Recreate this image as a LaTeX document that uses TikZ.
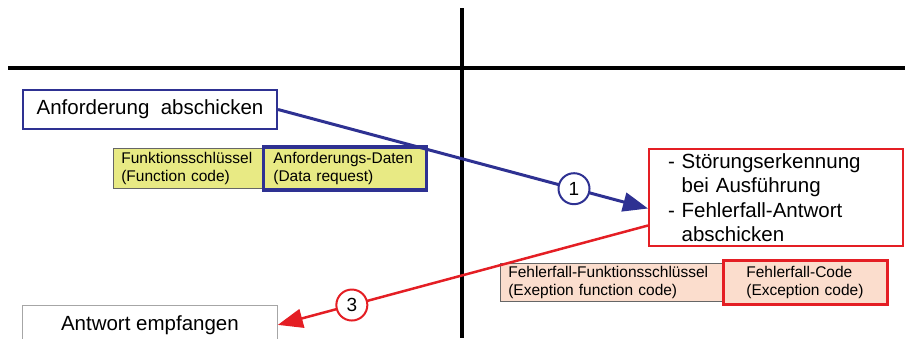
\documentclass[tikz,border=0pt]{standalone}
\usepackage{fontspec}
\setmainfont{Liberation Sans}
\usetikzlibrary{positioning,arrows.meta}
\definecolor{reqblue}{RGB}{46,49,146}
\definecolor{errred}{RGB}{228,30,36}
\definecolor{reqfill}{RGB}{232,234,132}
\definecolor{errfill}{RGB}{251,221,205}
\tikzset{
  bigtext/.style={font=\fontsize{20.5}{24.5}\selectfont},
  fieldbox/.style={draw=gray!80!black, line width=0.6pt, align=left, inner ysep=2pt,
                   font=\fontsize{15.5}{18}\selectfont},
  stepno/.style={circle, draw, line width=2pt, fill=white, inner sep=0pt,
                 minimum size=31pt, text=black, font=\fontsize{19}{19}\selectfont},
  flow/.style={line width=3pt, -{Triangle[length=25pt,width=19pt]}}
}

\begin{document}
\begin{tikzpicture}[x=1pt,y=-1pt]
  \useasboundingbox (0,0) rectangle (905,338);

  \draw[line width=3.5pt] (8,68) -- (905,68);
  \draw[line width=3.5pt] (462,8) -- (462,338);

  \node[bigtext, draw=reqblue, line width=2pt, anchor=north west,
        minimum width=254pt, minimum height=39pt] (anf) at (22,89) {Anforderung\ \ abschicken};

  \node[fieldbox, fill=reqfill, anchor=north west, minimum height=40pt,
        text width=133pt, inner xsep=8pt] (fc) at (113,148) {Funktionsschlüssel\\(Function code)};
  \node[fieldbox, fill=reqfill, draw=reqblue, line width=3.5pt, minimum height=43pt,
        text width=143pt, inner xsep=10pt, right=-1pt of fc] (dr) {Anforderungs-Daten\\(Data request)};

  \node[bigtext, draw=errred, line width=2pt, anchor=north west, align=left,
        text width=216pt, inner xsep=19pt, minimum height=97pt] (stoer) at (648,148)
        {- Störungserkennung\\\hphantom{- }bei Ausführung\\- Fehlerfall-Antwort\\\hphantom{- }abschicken};

  \node[fieldbox, fill=errfill, anchor=north west, minimum height=38pt,
        text width=206pt, inner xsep=8pt] (efc) at (500,263)
        {Fehlerfall-Funktionsschlüssel\\(Exeption function code)};
  \node[fieldbox, fill=errfill, draw=errred, line width=3.5pt, minimum height=44pt,
        text width=118pt, inner xsep=23pt, right=-1pt of efc] (ec) {Fehlerfall-Code\\(Exception code)};

  \node[bigtext, draw=gray!70, line width=0.8pt, anchor=north west,
        minimum width=255pt, minimum height=39pt] (antw) at (22,305) {Antwort empfangen};

  \draw[flow, reqblue] (anf.east) -- node[stepno, draw=reqblue, pos=0.8] {1} ([yshift=-11pt]stoer.west);
  \draw[flow, errred, line width=2.5pt] ([yshift=-28pt]stoer.west) -- node[stepno, draw=errred, pos=0.8] {3} (antw.east);
\end{tikzpicture}
\end{document}
